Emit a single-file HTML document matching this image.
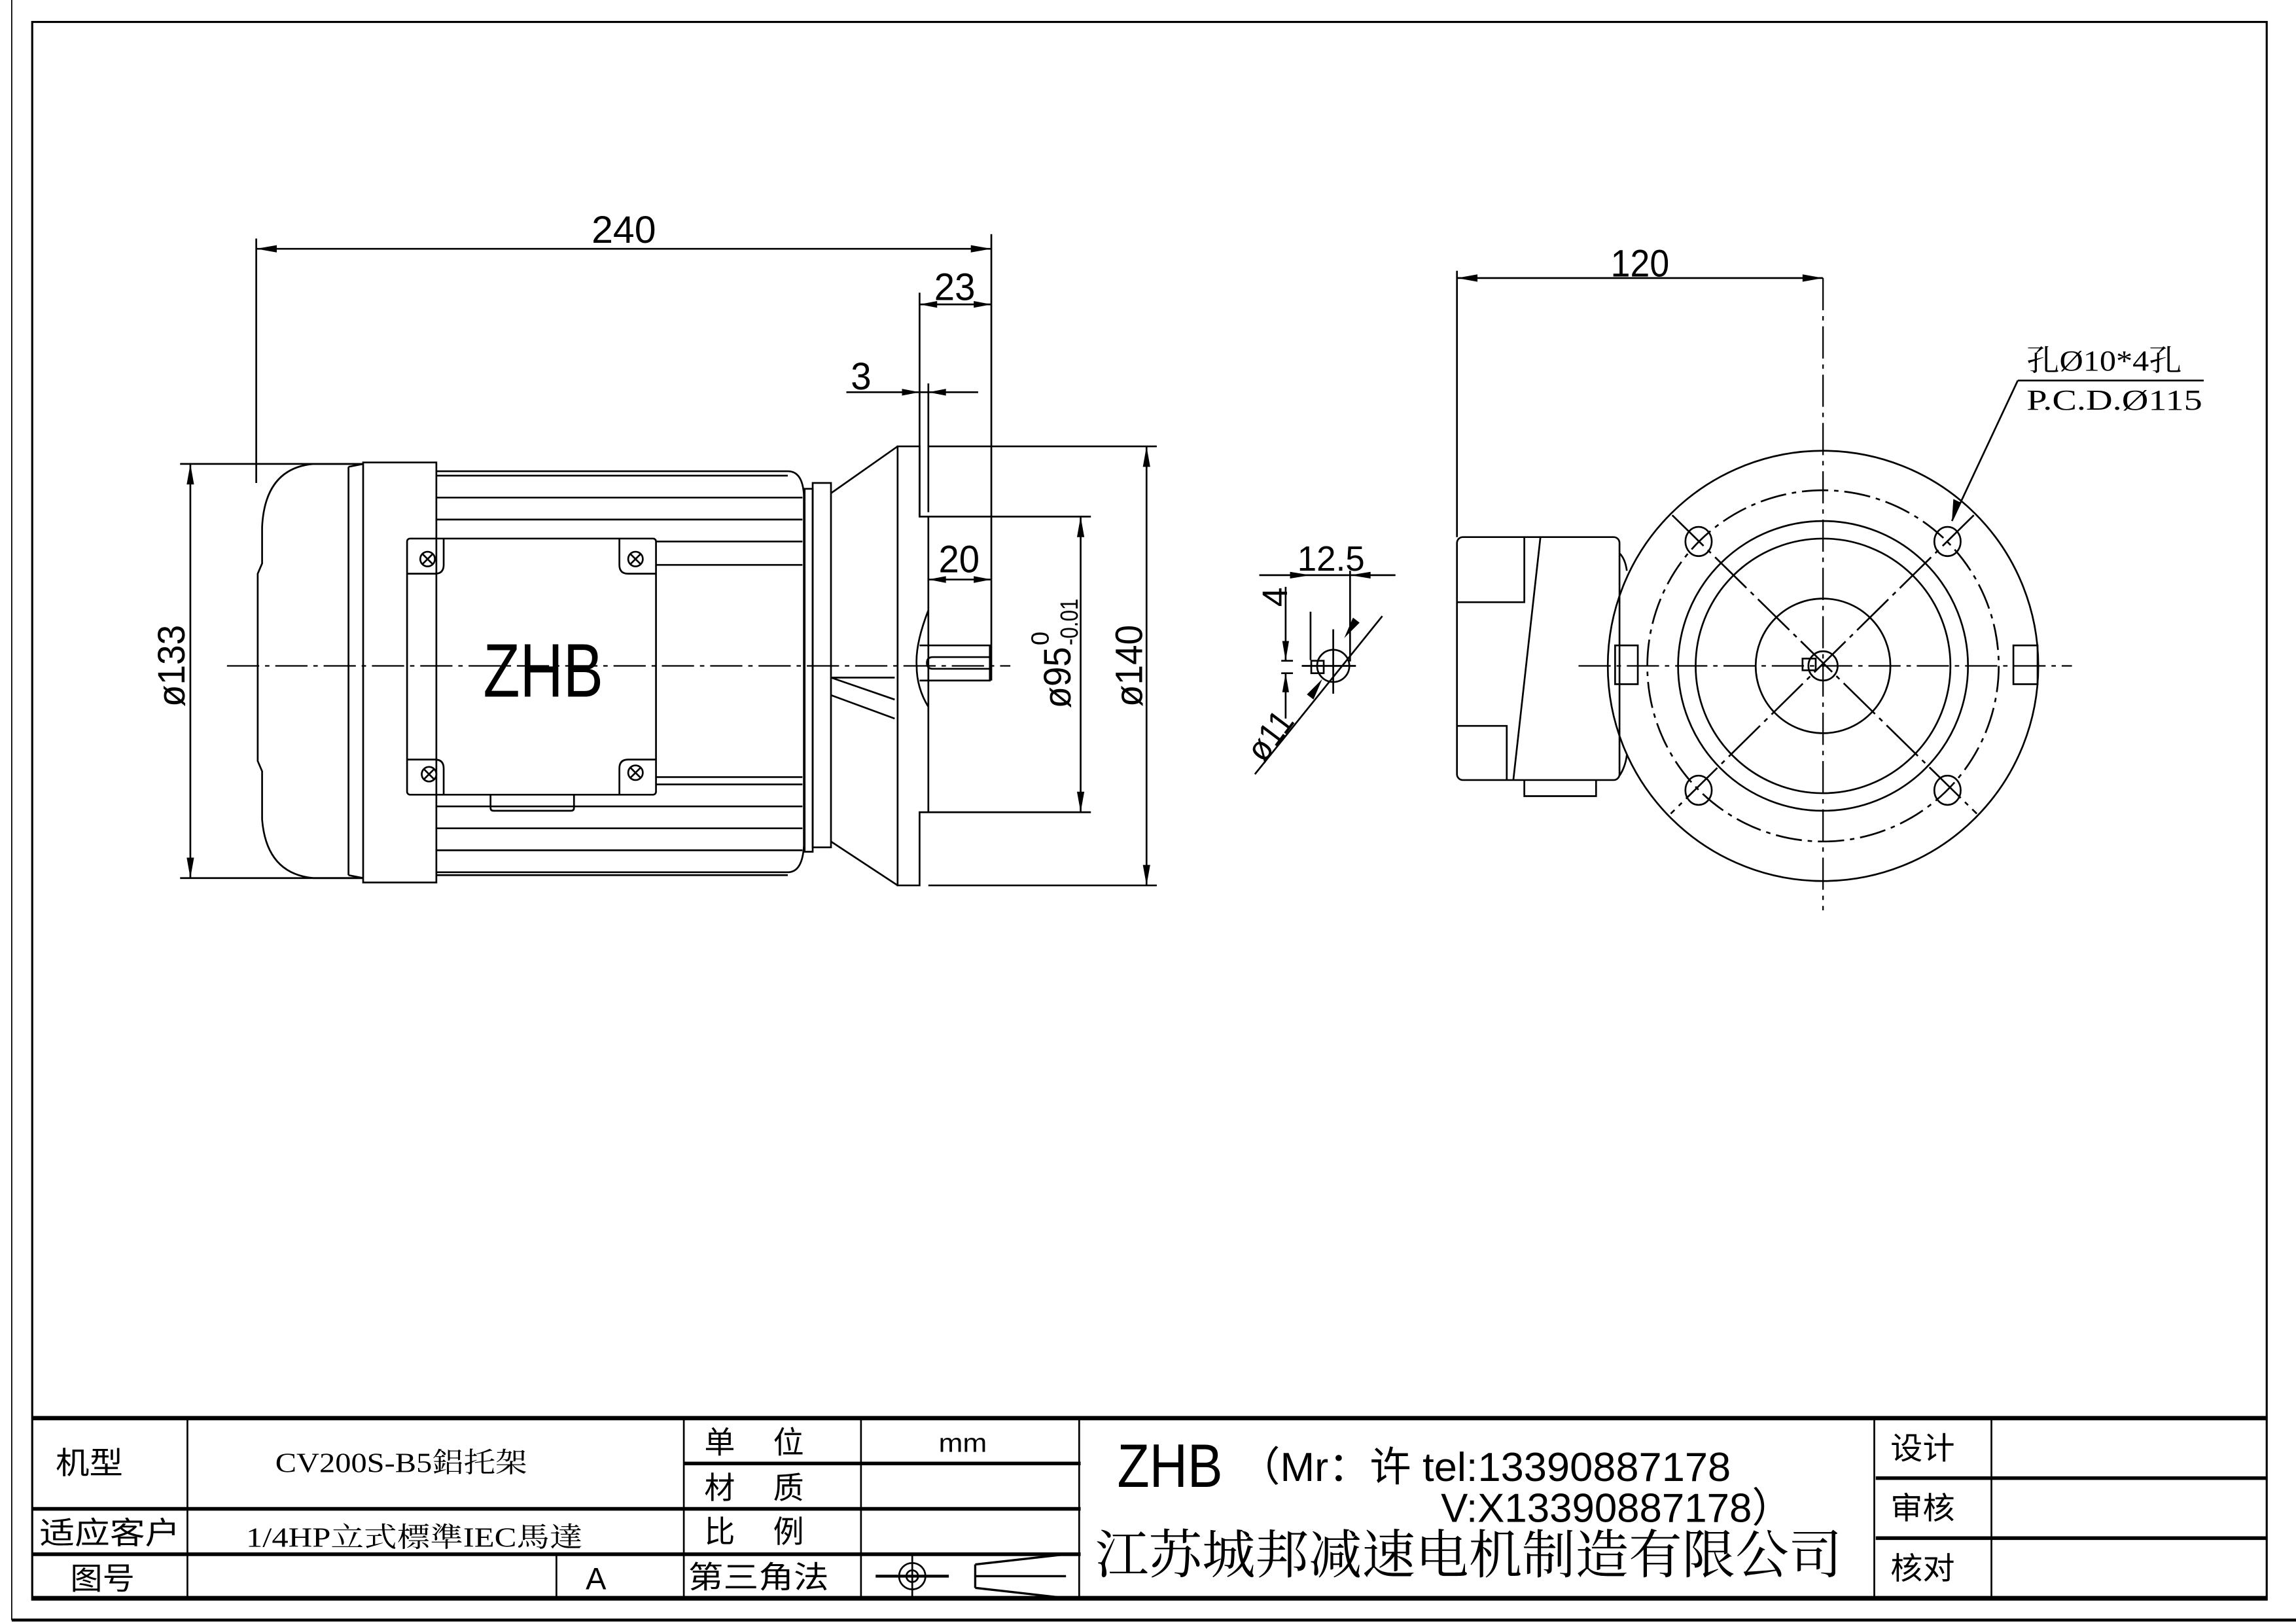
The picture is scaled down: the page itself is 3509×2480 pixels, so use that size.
<!DOCTYPE html>
<html><head><meta charset="utf-8"><style>
html,body{margin:0;padding:0;background:#fff}
svg{display:block}
text{font-family:"Liberation Sans","Noto Sans CJK SC",sans-serif;fill:#000}
.cj{font-family:"Liberation Serif","Noto Serif CJK SC",serif}
</style></head><body>
<svg width="3509" height="2480" viewBox="0 0 1568 1109" preserveAspectRatio="none" xmlns="http://www.w3.org/2000/svg">
<rect width="1568" height="1109" fill="#fff"/>
<g fill="none" stroke="#000" stroke-width="1.2">
<line x1="8" y1="0" x2="8" y2="1107" stroke-width="0.8"/>
<line x1="8" y1="1107" x2="1568" y2="1107" stroke-width="2"/>
<rect x="22" y="15" width="1526" height="1078" stroke-width="1.4"/>
<line x1="22" y1="969" x2="1548" y2="969" stroke-width="3"/>
<line x1="22" y1="1092" x2="1548" y2="1092" stroke-width="3"/>
<line x1="22" y1="1031" x2="738" y2="1031" stroke-width="2.5"/>
<line x1="22" y1="1062" x2="738" y2="1062" stroke-width="2.5"/>
<line x1="467" y1="1000" x2="738" y2="1000" stroke-width="2.5"/>
<line x1="1281" y1="1010" x2="1548" y2="1010" stroke-width="2.5"/>
<line x1="1281" y1="1051" x2="1548" y2="1051" stroke-width="2.5"/>
<line x1="128" y1="969" x2="128" y2="1092"/>
<line x1="380" y1="1062" x2="380" y2="1092"/>
<line x1="467" y1="969" x2="467" y2="1092"/>
<line x1="588" y1="969" x2="588" y2="1092"/>
<line x1="737" y1="969" x2="737" y2="1092"/>
<line x1="1280" y1="969" x2="1280" y2="1092"/>
<line x1="1360" y1="969" x2="1360" y2="1092"/>
<circle cx="623" cy="1077" r="9"/>
<circle cx="623" cy="1077" r="4"/>
<line x1="598" y1="1077" x2="648" y2="1077" stroke-width="2"/>
<line x1="623" y1="1063" x2="623" y2="1092"/>
<path d="M666 1069 L728 1062 M666 1085 L728 1092 M666 1069 V1085 M666 1077 H728" stroke-width="1.5"/>

<line x1="155" y1="455" x2="690" y2="455" stroke-dasharray="22,4,3,4" stroke-width="1"/>
<path d="M248 317 H214 Q181 320 179 360 V385 L176 392 V520 L179 527 V560 Q182 597 214 600 H248"/>
<line x1="238" y1="319" x2="238" y2="598"/>
<path d="M238 319 L248 317 M238 598 L248 600"/>
<rect x="248" y="316" width="50" height="287"/>
<path d="M298 322 H538 Q548 322 549 338 V578 Q548 596 538 596 H298"/>
<path d="M298 325 H538 M298 340 H548 M298 355 H548 M448 370 H548 M448 386 H548 M448 531 H548 M448 536 H548 M298 551 H548 M298 566 H548 M298 581 H548 M298 598 H538"/>
<rect x="278" y="368" width="170" height="175" rx="2"/>
<path d="M278 392 H297 Q303 392 303 386 V368 M448 392 H429 Q423 392 423 386 V368 M278 519 H297 Q303 519 303 525 V543 M448 519 H429 Q423 519 423 525 V543"/>
<circle cx="292" cy="382" r="5"/><path d="M288.5 378.5 L295.5 385.5 M295.5 378.5 L288.5 385.5"/>
<circle cx="434" cy="382" r="5"/><path d="M430.5 378.5 L437.5 385.5 M437.5 378.5 L430.5 385.5"/>
<circle cx="293" cy="529" r="5"/><path d="M289.5 525.5 L296.5 532.5 M296.5 525.5 L289.5 532.5"/>
<circle cx="434" cy="528" r="5"/><path d="M430.5 524.5 L437.5 531.5 M437.5 524.5 L430.5 531.5"/>
<path d="M335 543 V552 Q335 554 337 554 H390 Q392 554 392 552 V543"/>
<rect x="549.5" y="334" width="5.5" height="248"/>
<rect x="555" y="330" width="12.5" height="249"/>
<path d="M567.5 337 L613 305 M567.5 575 L613 605"/>
<path d="M567.5 463 H611 M567.5 463 L611 478 M567.5 475 L611 491"/>
<path d="M613 305 H628 V353 H634 V555 H628 V605 H613 Z"/>
<path d="M634 417 Q625 440 626 455 Q626 470 634 483"/>
<path d="M628 441 H676 V465 H628"/>
<path d="M676 449 H637 Q633 449 633 453 Q633 457 637 457 H676"/>
<path d="M634 305 H790 M634 605 H790 M634 353 H745 M634 555 H745"/>
<path d="M123 317 H248 M123 600 H248"/>
<line x1="175" y1="163" x2="175" y2="330"/>
<line x1="677" y1="160" x2="677" y2="465"/>
<line x1="628" y1="200" x2="628" y2="353"/>
<line x1="634" y1="262" x2="634" y2="350"/>
<line x1="175" y1="170" x2="677" y2="170"/>
<line x1="628" y1="208" x2="677" y2="208"/>
<line x1="578" y1="268" x2="668" y2="268"/>
<line x1="634" y1="396" x2="677" y2="396"/>
<line x1="130" y1="317" x2="130" y2="600"/>
<line x1="738" y1="353" x2="738" y2="555"/>
<line x1="783" y1="305" x2="783" y2="605"/>

<circle cx="910.5" cy="455" r="11"/>
<rect x="895.5" y="451.5" width="8.5" height="8.5"/>
<path d="M889 455 H926 M910.5 430 V474"/>
<path d="M895 418 V451 M922 390 V452"/>
<line x1="860" y1="393" x2="953" y2="393"/>
<path d="M875 451.5 H883 M875 460 H883"/>
<path d="M878 401 V451.5 M878 460 V491"/>
<line x1="857" y1="529" x2="944" y2="421"/>

<line x1="995" y1="185" x2="995" y2="367"/>
<line x1="995" y1="190" x2="1245" y2="190"/>
<line x1="1245" y1="190" x2="1245" y2="622" stroke-dasharray="22,4,3,4" stroke-width="1"/>
<line x1="1078" y1="455" x2="1415" y2="455" stroke-dasharray="22,4,3,4" stroke-width="1"/>
<circle cx="1245" cy="455" r="147"/>
<circle cx="1245" cy="455" r="120" stroke-dasharray="18,4,3,4"/>
<circle cx="1245" cy="455" r="99"/>
<circle cx="1245" cy="455" r="87"/>
<circle cx="1245" cy="455" r="46"/>
<circle cx="1245" cy="455" r="10"/>
<rect x="1231" y="450" width="9" height="8"/>
<path d="M1142 352 L1350 556 M1348 352 L1141 556" stroke-dasharray="30,4,3,4"/>
<ellipse cx="1160" cy="370" rx="9" ry="10"/>
<ellipse cx="1330" cy="370" rx="9" ry="10"/>
<ellipse cx="1160" cy="540" rx="9" ry="10"/>
<ellipse cx="1330" cy="540" rx="9" ry="10"/>
<rect x="1103" y="441" width="15.5" height="26.5"/>
<rect x="1375" y="441" width="16.5" height="26.5"/>
<rect x="995" y="367" width="111" height="166" rx="4"/>
<path d="M1052 367 L1033.5 533"/>
<path d="M995 411.5 H1041 V367 M995 496 H1029 V533"/>
<path d="M1041 533 V544 H1090 V533"/>
<path d="M1106 378 Q1110 382 1111 390 M1106 530 Q1110 524 1111 516"/>
<line x1="1378" y1="260" x2="1505" y2="260"/>
<line x1="1378" y1="260" x2="1333" y2="356"/>
</g>

<g fill="#000" stroke="none">
<polygon points="175,170 189,167.5 189,172.5"/>
<polygon points="677,170 663,167.5 663,172.5"/>
<polygon points="628,208 640,205.7 640,210.3"/>
<polygon points="677,208 665,205.7 665,210.3"/>
<polygon points="628,268 616,265.7 616,270.3"/>
<polygon points="634,268 646,265.7 646,270.3"/>
<polygon points="634,396 646,393.7 646,398.3"/>
<polygon points="677,396 665,393.7 665,398.3"/>
<polygon points="130,317 127.5,331 132.5,331"/>
<polygon points="130,600 127.5,586 132.5,586"/>
<polygon points="738,353 735.5,367 740.5,367"/>
<polygon points="738,555 735.5,541 740.5,541"/>
<polygon points="783,305 780.5,319 785.5,319"/>
<polygon points="783,605 780.5,591 785.5,591"/>
<polygon points="995,190 1009,187.5 1009,192.5"/>
<polygon points="1245,190 1231,187.5 1231,192.5"/>
<polygon points="895,393 881,390.7 881,395.3"/>
<polygon points="922,393 936,390.7 936,395.3"/>
<polygon points="878,451.5 875.7,438 880.3,438"/>
<polygon points="878,460 875.7,473 880.3,473"/>
<polygon points="903,464 897,478 892.5,474.5"/>
<polygon points="918,436 924,422 928.5,425.5"/>
<polygon points="1333,356 1334,341 1338.6,343.2"/>
</g>

<g font-size="26">
<text x="426" y="166" text-anchor="middle" textLength="44" lengthAdjust="spacingAndGlyphs">240</text>
<text x="652" y="205" text-anchor="middle" textLength="28" lengthAdjust="spacingAndGlyphs">23</text>
<text x="588" y="266" text-anchor="middle" textLength="14" lengthAdjust="spacingAndGlyphs">3</text>
<text x="655" y="391" text-anchor="middle" textLength="28" lengthAdjust="spacingAndGlyphs">20</text>
<text x="1120" y="189" text-anchor="middle" textLength="40" lengthAdjust="spacingAndGlyphs">120</text>
<text x="909" y="390" text-anchor="middle" font-size="24" textLength="46" lengthAdjust="spacingAndGlyphs">12.5</text>
<text transform="translate(879,408) rotate(-90)" text-anchor="middle" font-size="24">4</text>
<text transform="translate(126,455) rotate(-90)" text-anchor="middle" textLength="56" lengthAdjust="spacingAndGlyphs">ø133</text>
<text transform="translate(780,455) rotate(-90)" text-anchor="middle" textLength="56" lengthAdjust="spacingAndGlyphs">ø140</text>
<text transform="translate(731,484) rotate(-90)" textLength="42" lengthAdjust="spacingAndGlyphs">ø95</text>
<text transform="translate(716,441) rotate(-90)" font-size="17">0</text>
<text transform="translate(736,441) rotate(-90)" font-size="17" textLength="32" lengthAdjust="spacingAndGlyphs">-0.01</text>
<text transform="translate(863,522) rotate(-53)" font-size="24" textLength="36" lengthAdjust="spacingAndGlyphs">ø11</text>
</g>
<text x="371" y="476" text-anchor="middle" font-size="52" textLength="82" lengthAdjust="spacingAndGlyphs">ZHB</text>
<text class="cj" x="1384" y="253" font-size="20" textLength="106" lengthAdjust="spacingAndGlyphs">孔Ø10*4孔</text>
<text class="cj" x="1384" y="280" font-size="20" textLength="120" lengthAdjust="spacingAndGlyphs">P.C.D.Ø115</text>

<g font-size="21">
<text x="38" y="1007" textLength="46" lengthAdjust="spacingAndGlyphs">机型</text>
<text class="cj" x="188" y="1006" font-size="19" textLength="172" lengthAdjust="spacingAndGlyphs">CV200S-B5鋁托架</text>
<text x="481" y="993">单</text><text x="528" y="993">位</text>
<text x="641" y="992" font-size="18" textLength="33" lengthAdjust="spacingAndGlyphs">mm</text>
<text x="481" y="1024">材</text><text x="528" y="1024">质</text>
<text x="481" y="1054">比</text><text x="528" y="1054">例</text>
<text x="470" y="1085" textLength="96" lengthAdjust="spacingAndGlyphs">第三角法</text>
<text x="27" y="1055" textLength="96" lengthAdjust="spacingAndGlyphs">适应客户</text>
<text class="cj" x="168" y="1057" font-size="19" textLength="230" lengthAdjust="spacingAndGlyphs">1/4HP立式標準IEC馬達</text>
<text x="48" y="1086" textLength="44" lengthAdjust="spacingAndGlyphs">图号</text>
<text x="400" y="1086">A</text>
<text x="1291" y="997" textLength="44" lengthAdjust="spacingAndGlyphs">设计</text>
<text x="1291" y="1038" textLength="44" lengthAdjust="spacingAndGlyphs">审核</text>
<text x="1291" y="1079" textLength="44" lengthAdjust="spacingAndGlyphs">核对</text>
</g>
<text x="763" y="1016" font-size="42" textLength="72" lengthAdjust="spacingAndGlyphs">ZHB</text>
<text x="846" y="1012" font-size="28" textLength="336" lengthAdjust="spacingAndGlyphs">（Mr：许 tel:13390887178</text>
<text x="984" y="1040" font-size="28" textLength="240" lengthAdjust="spacingAndGlyphs">V:X13390887178）</text>
<text class="cj" x="748" y="1075" font-size="36" textLength="510" lengthAdjust="spacingAndGlyphs">江苏城邦减速电机制造有限公司</text>
</svg>
</body></html>
